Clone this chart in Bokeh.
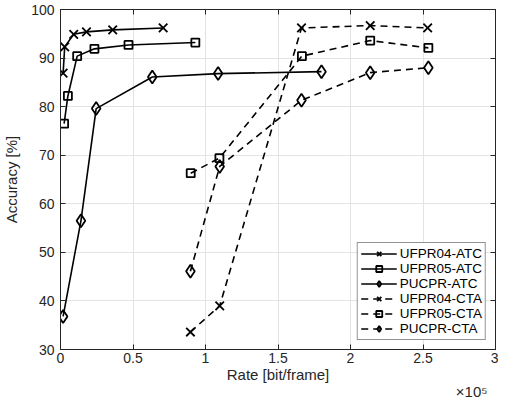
from bokeh.plotting import figure
from bokeh.models import LinearAxis, Title, FixedTicker, Legend, LegendItem, CustomJSTickFormatter
from bokeh.embed import file_html
from bokeh.resources import INLINE

# Rate in units of 1e5 bit/frame, accuracy in %
ufpr04_atc_x = [0.018, 0.029, 0.091, 0.179, 0.36, 0.708]
ufpr04_atc_y = [86.9, 92.3, 94.9, 95.4, 95.8, 96.2]
ufpr05_atc_x = [0.025, 0.051, 0.115, 0.234, 0.469, 0.93]
ufpr05_atc_y = [76.5, 82.2, 90.4, 91.9, 92.7, 93.2]
pucpr_atc_x = [0.018, 0.141, 0.246, 0.633, 1.087, 1.80]
pucpr_atc_y = [36.8, 56.5, 79.6, 86.1, 86.8, 87.2]
ufpr04_cta_x = [0.896, 1.098, 1.662, 2.136, 2.532]
ufpr04_cta_y = [33.6, 39.0, 96.2, 96.7, 96.2]
ufpr05_cta_x = [0.898, 1.096, 1.665, 2.136, 2.537]
ufpr05_cta_y = [66.3, 69.4, 90.4, 93.6, 92.1]
pucpr_cta_x = [0.896, 1.098, 1.662, 2.136, 2.537]
pucpr_cta_y = [46.1, 67.7, 81.3, 87.0, 88.0]

x_ticks = [0, 0.5, 1, 1.5, 2, 2.5, 3]
y_ticks = [30, 40, 50, 60, 70, 80, 90, 100]
x_multiplier = "×10⁵"

FONT = "Liberation Sans"
TXT = "#262626"
TICK_FS = "14px"
LABEL_FS = "15px"

p = figure(width=498, height=398, x_range=(0, 3), y_range=(30, 100),
           output_backend="svg", toolbar_location=None,
           min_border_left=51, min_border_right=3, min_border_top=9, min_border_bottom=0)
p.outline_line_color = TXT
p.outline_line_width = 1
p.background_fill_color = "white"
p.border_fill_color = "white"

for ax in (p.xaxis[0], p.yaxis[0]):
    ax.major_label_text_font = FONT
    ax.major_label_text_font_size = TICK_FS
    ax.major_label_text_color = TXT
    ax.axis_label_text_font = FONT
    ax.axis_label_text_font_size = LABEL_FS
    ax.axis_label_text_font_style = "normal"
    ax.axis_label_text_color = TXT
    ax.major_tick_in = 5
    ax.major_tick_out = 0
    ax.minor_tick_in = 0
    ax.minor_tick_out = 0
    ax.axis_line_color = TXT
    ax.major_tick_line_color = TXT

p.xaxis[0].ticker = FixedTicker(ticks=x_ticks)
p.yaxis[0].ticker = FixedTicker(ticks=y_ticks)
p.xaxis[0].axis_label = "Rate [bit/frame]"
p.yaxis[0].axis_label = "Accuracy [%]"
p.xaxis[0].major_label_standoff = 3
p.xaxis[0].axis_label_standoff = 0
p.yaxis[0].major_label_standoff = 6
p.yaxis[0].axis_label_standoff = 8
p.xaxis[0].formatter = CustomJSTickFormatter(code="return String(tick);")

for side in ("right", "above"):
    a = LinearAxis(major_tick_in=5, major_tick_out=0,
                   minor_tick_in=0, minor_tick_out=0, axis_line_color=TXT,
                   major_tick_line_color=TXT, major_label_standoff=0)
    a.ticker = FixedTicker(ticks=y_ticks if side == "right" else x_ticks)
    a.formatter = CustomJSTickFormatter(code="return '';")
    p.add_layout(a, side)

p.xgrid.ticker = FixedTicker(ticks=x_ticks)
p.ygrid.ticker = FixedTicker(ticks=y_ticks)
p.grid.grid_line_color = "#e3e3e3"
p.grid.grid_line_width = 1

series = [
    ("UFPR04-ATC", ufpr04_atc_x, ufpr04_atc_y, "x", "solid", 12),
    ("UFPR05-ATC", ufpr05_atc_x, ufpr05_atc_y, "square", "solid", 8),
    ("PUCPR-ATC", pucpr_atc_x, pucpr_atc_y, "diamond", "solid", 13),
    ("UFPR04-CTA", ufpr04_cta_x, ufpr04_cta_y, "x", "7 5", 12),
    ("UFPR05-CTA", ufpr05_cta_x, ufpr05_cta_y, "square", "7 5", 8),
    ("PUCPR-CTA", pucpr_cta_x, pucpr_cta_y, "diamond", "7 5", 13),
]

items = []
for name, xs, ys, mk, dash, sz in series:
    r1 = p.line(xs, ys, line_color="black", line_width=1.6, line_dash=dash)
    r2 = p.scatter(xs, ys, marker=mk, size=sz, line_color="black", line_width=1.8,
                   fill_color=None)
    items.append(LegendItem(label=name, renderers=[r1, r2]))

legend = Legend(items=items, location="bottom_right", margin=9, padding=3,
                spacing=0, label_height=15, glyph_height=15, glyph_width=36,
                label_standoff=3, label_text_font=FONT, label_text_font_size="13.5px",
                label_text_color="black", border_line_color=TXT, border_line_width=1,
                background_fill_color="white", background_fill_alpha=1)
p.add_layout(legend, "center")

mult = Title(text=x_multiplier, align="right", vertical_align="top", standoff=-6,
             offset=8, text_font=FONT, text_font_size=LABEL_FS,
             text_font_style="normal", text_color=TXT)
p.add_layout(mult, "below")

open("out.html", "w").write(file_html(p, INLINE))
